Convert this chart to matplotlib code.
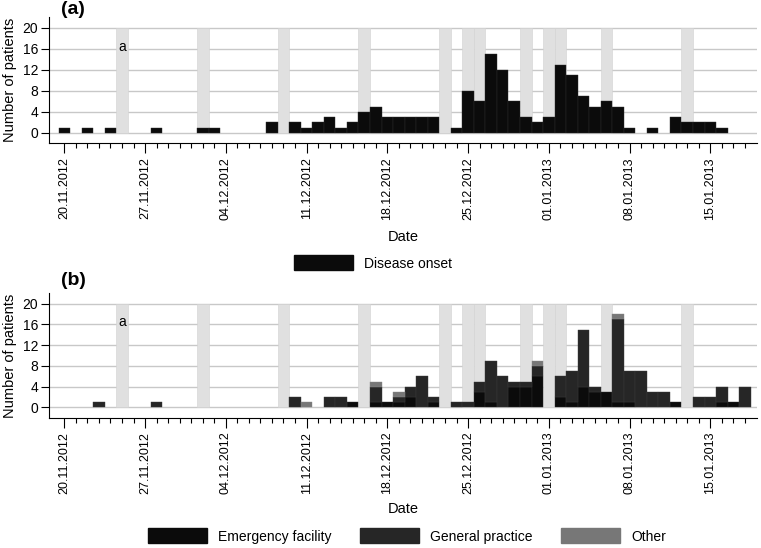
import numpy as np
import pandas as pd
import matplotlib
matplotlib.use("Agg")
import matplotlib.pyplot as plt
import matplotlib.dates as mdates
from matplotlib.patches import Patch

plt.rcParams['font.family'] = ['Liberation Sans', 'DejaVu Sans']

# days from 20.11.2012 to 18.01.2013
dates = pd.date_range("2012-11-20", periods=60, freq="D")

# Sundays and public holidays (grey bands)
holidays = pd.to_datetime(["2012-11-25", "2012-12-02", "2012-12-09", "2012-12-16",
                           "2012-12-23", "2012-12-25", "2012-12-26", "2012-12-30",
                           "2013-01-01", "2013-01-02", "2013-01-06", "2013-01-13"])

# (a) disease onset per day
onset = [1, 0, 1, 0, 1, 0, 0, 0, 1, 0,
         0, 0, 1, 1, 0, 0, 0, 0, 2, 0,
         2, 1, 2, 3, 1, 2, 4, 5, 3, 3,
         3, 3, 3, 0, 1, 8, 6, 15, 12, 6,
         3, 2, 3, 13, 11, 7, 5, 6, 5, 1,
         0, 1, 0, 3, 2, 2, 2, 1, 0, 0]

# (b) consultations by place
emergency = [0, 0, 0, 0, 0, 0, 0, 0, 0, 0,
             0, 0, 0, 0, 0, 0, 0, 0, 0, 0,
             0, 0, 0, 0, 0, 1, 0, 1, 1, 1,
             2, 0, 1, 0, 0, 0, 3, 1, 0, 4,
             4, 6, 0, 2, 1, 4, 3, 3, 1, 1,
             0, 0, 0, 1, 0, 0, 0, 1, 1, 0]
general = [0, 0, 0, 1, 0, 0, 0, 0, 1, 0,
           0, 0, 0, 0, 0, 0, 0, 0, 0, 0,
           2, 0, 0, 2, 2, 0, 0, 3, 0, 1,
           2, 6, 1, 0, 1, 1, 2, 8, 6, 1,
           1, 2, 0, 4, 6, 11, 1, 0, 16, 6,
           7, 3, 3, 0, 0, 2, 2, 3, 0, 4]
other = [0] * 60
for k in (21, 27, 29, 41, 48):
    other[k] = 1

c_emerg = "#0b0b0b"
c_gp = "#262626"
c_other = "#777777"
c_band = "#e0e0e0"

fig = plt.figure(figsize=(7.61, 5.48), dpi=100)
ax_a = fig.add_axes([0.0648, 0.7385, 0.93, 0.23])
ax_b = fig.add_axes([0.0648, 0.2376, 0.93, 0.227])

start = mdates.date2num(dates[0])
major = pd.date_range("2012-11-20", "2013-01-15", freq="7D")


def style_axis(ax, date_y):
    ax.bar(holidays, [20] * len(holidays), width=1.0, color=c_band,
           edgecolor="#d2d2d2", linewidth=0.4, zorder=1)
    ax.text(holidays[0], 16.4, "a", ha="center", va="center", fontsize=10, zorder=3)
    ax.set_axisbelow(True)
    ax.yaxis.grid(True, color="#c8c8c8", linewidth=1.0)
    ax.set_ylim(-2, 22)
    ax.set_yticks([0, 4, 8, 12, 16, 20])
    ax.set_xlim(start - 1.3, start + 60.05)
    ax.set_xticks(major)
    ax.set_xticks(dates, minor=True)
    ax.xaxis.set_major_formatter(mdates.DateFormatter("%d.%m.%Y"))
    ax.tick_params(axis="x", which="major", length=7, width=0.8, rotation=90,
                   labelsize=9.0, pad=3)
    ax.tick_params(axis="x", which="minor", length=3.5, width=0.8)
    ax.tick_params(axis="y", length=6, width=0.8, labelsize=10, pad=2)
    for s in ("top", "right"):
        ax.spines[s].set_visible(False)
    ax.spines["left"].set_linewidth(0.8)
    ax.spines["bottom"].set_linewidth(0.8)
    ax.set_ylabel("Number of patients", fontsize=10.5, labelpad=4)
    ax.set_xlabel("Date", fontsize=10.5, va="center")
    ax.xaxis.set_label_coords(0.5, date_y)


def draw_bars(ax, values, bottom, color, edge):
    values = np.asarray(values)
    bottom = np.asarray(bottom)
    keep = values > 0
    ax.bar(dates[keep], values[keep], bottom=bottom[keep], width=1.0, color=color,
           edgecolor=edge, linewidth=0.3, zorder=2)


# panel (a)
style_axis(ax_a, -0.744)
draw_bars(ax_a, onset, np.zeros(60), c_emerg, "#2e2e2e")

# panel (b)
style_axis(ax_b, -0.735)
em = np.array(emergency)
gp = np.array(general)
ot = np.array(other)
draw_bars(ax_b, em, np.zeros(60), c_emerg, "#2e2e2e")
draw_bars(ax_b, gp, em, c_gp, "#3a3a3a")
draw_bars(ax_b, ot, em + gp, c_other, "#888888")

fig.text(0.080, 0.999, "(a)", fontsize=14, weight="bold", va="top")
fig.text(0.080, 1 - 272 / 548, "(b)", fontsize=14, weight="bold", va="top")

leg_kw = dict(frameon=False, fontsize=10, handlelength=4.3, handleheight=1.25,
              handletextpad=0.8, columnspacing=2.0, borderpad=0)
fig.legend(handles=[Patch(color=c_emerg, label="Disease onset")], loc="center",
           bbox_to_anchor=(373 / 761, 1 - 263 / 548), **leg_kw)
fig.legend(handles=[Patch(color=c_emerg, label="Emergency facility"),
                    Patch(color=c_gp, label="General practice"),
                    Patch(color=c_other, label="Other")],
           loc="center", ncol=3, bbox_to_anchor=(407 / 761, 1 - 536 / 548), **leg_kw)

fig.savefig("out.png", dpi=100)
